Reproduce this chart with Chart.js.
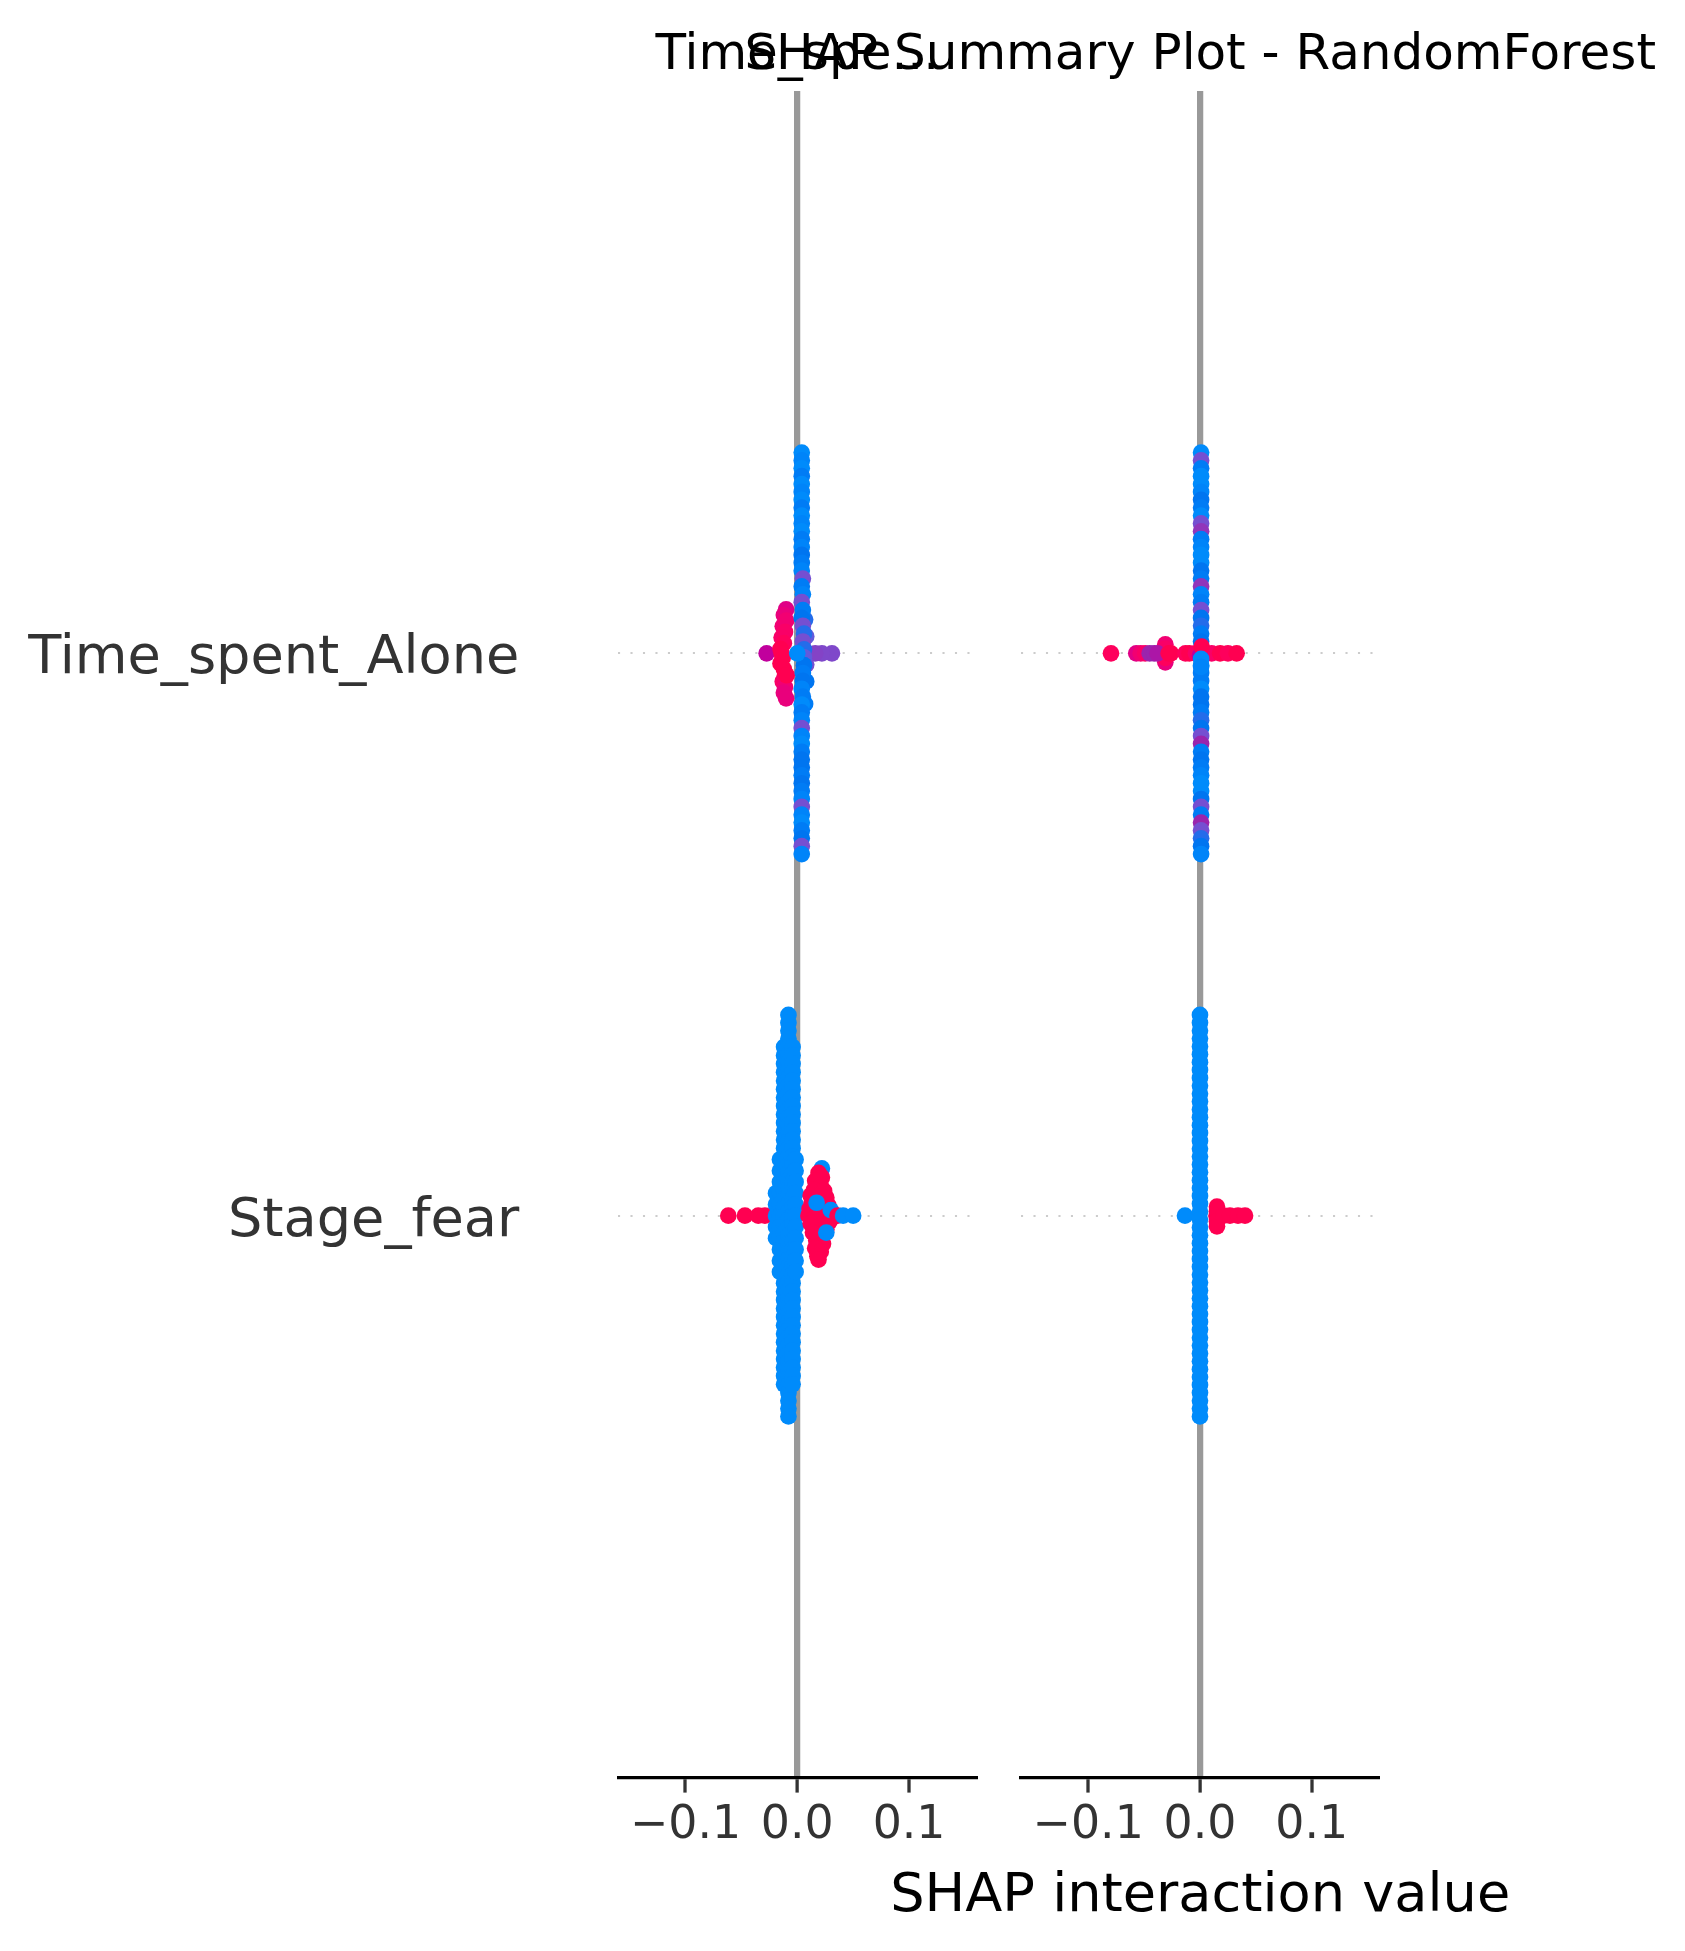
<!DOCTYPE html>
<html>
<head>
<meta charset="utf-8">
<script src="https://cdn.jsdelivr.net/npm/chart.js@4.4.1/dist/chart.umd.min.js"></script>
<style>
html, body { margin: 0; padding: 0; background: #ffffff; }
#wrap { position: relative; width: 1685px; height: 1951px; overflow: hidden; background: #ffffff; font-family: 'DejaVu Sans'; }
#wrap canvas { position: absolute; left: 0; top: 0; }
.txt { position: absolute; white-space: nowrap; text-align: center; width: 1200px; color: #000000; font-family: 'DejaVu Sans'; }
</style>
</head>
<body>
<div id="wrap">
  <canvas id="leftPanel" width="1685" height="1951"></canvas>
  <canvas id="rightPanel" width="1685" height="1951"></canvas>
  <div class="txt" id="titleLeft" style="left:197.3px; top:27px; font-size:50px; line-height:50px;"></div>
  <div class="txt" id="titleRight" style="left:600.2px; top:27px; font-size:50px; line-height:50px;"></div>
  <div class="txt" id="xLabel" style="left:600.2px; top:1866px; font-size:54.17px; line-height:54.17px;"></div>
</div>
<script>
// ---------------- data ----------------
const categories = ['Stage_fear', 'Time_spent_Alone'];          // y position = index
const panelTitles = ['Time_spe...', 'SHAP Summary Plot - RandomForest'];
const xTickValues = [-0.1, 0.0, 0.1];
const xTickLabels = ['\u22120.1', '0.0', '0.1'];
const xAxisLabel = 'SHAP interaction value';

// each point: [SHAP interaction value, beeswarm offset, feature value (0 low .. 1 high)]
const leftAlone = [
  [-0.0274,0,0.62],
  [-0.010,0.078,0.75],[-0.012,0.068,0.8],[-0.010,0.058,0.85],[-0.013,0.048,0.85],[-0.011,0.038,0.9],
  [-0.014,0.028,0.9],[-0.012,0.018,0.95],[-0.013,-0.008,1],[-0.015,-0.018,1],[-0.012,-0.028,1],
  [-0.011,-0.040,1],[-0.013,-0.050,0.9],[-0.011,-0.060,0.85],[-0.012,-0.070,0.8],[-0.010,-0.080,0.8],
  [-0.015,0.008,1],[-0.014,0,1],[-0.0095,-0.039,1],
  [0.031,0,0.38],[0.022,0,0.38],[0.016,0,0.4],
  [0.008,0.03,0.3],[0.008,-0.02,0.35],[0.007,0.06,0.2],[0.008,-0.05,0.15],[0.007,-0.09,0.1],
  [0.004,0.357,0],[0.004,0.343,0.05],[0.004,0.329,0],[0.004,0.315,0.1],[0.004,0.301,0],[0.004,0.287,0.05],
  [0.004,0.273,0],[0.004,0.259,0.1],[0.004,0.245,0],[0.004,0.231,0.05],[0.004,0.217,0],[0.004,0.203,0.1],
  [0.004,0.189,0.05],[0.004,0.175,0.15],[0.004,0.161,0.1],[0.004,0.147,0.05],[0.005,0.133,0.35],
  [0.004,0.119,0.1],[0.005,0.105,0.05],[0.004,0.091,0.35],[0.005,0.077,0.1],[0.004,0.063,0.15],
  [0.005,0.049,0.35],[0.006,0.035,0.2],[0.005,0.021,0.35],[0.006,0.007,0.2],[0.006,-0.007,0.3],
  [0.006,-0.021,0.15],[0.005,-0.035,0.1],[0.005,-0.049,0.15],[0.004,-0.063,0.05],[0.005,-0.077,0.1],
  [0.004,-0.091,0],[0.004,-0.105,0.1],[0.004,-0.119,0.05],[0.004,-0.133,0.35],[0.004,-0.147,0.05],
  [0.004,-0.161,0],[0.004,-0.175,0.1],[0.004,-0.189,0.15],[0.004,-0.203,0.15],[0.004,-0.217,0.1],
  [0.004,-0.231,0.15],[0.004,-0.245,0.1],[0.004,-0.259,0.05],[0.004,-0.273,0.35],[0.004,-0.287,0.05],
  [0.004,-0.301,0],[0.004,-0.315,0.1],[0.004,-0.329,0.15],[0.004,-0.343,0.35],[0.004,-0.357,0.05],
  [0.0,0,0]
];

const rightAlone = [
  [0.001,0.357,0],[0.001,0.343,0.35],[0.001,0.329,0.1],[0.001,0.315,0],[0.001,0.301,0],[0.001,0.287,0.05],
  [0.001,0.273,0.15],[0.001,0.259,0.1],[0.001,0.245,0],[0.001,0.231,0.35],[0.001,0.217,0.45],[0.001,0.203,0.1],
  [0.001,0.189,0.05],[0.001,0.175,0],[0.001,0.161,0],[0.001,0.147,0.15],[0.001,0.133,0.1],[0.001,0.119,0.45],
  [0.001,0.105,0.05],[0.001,0.091,0.1],[0.001,0.077,0.35],[0.001,0.063,0.15],[0.001,0.049,0.2],[0.001,0.035,0.1],
  [0.001,0.021,0.15],[0.001,0.007,0.05],[0.001,-0.007,0.1],[0.001,-0.021,0.05],[0.001,-0.035,0.1],[0.001,-0.049,0.1],
  [0.001,-0.063,0],[0.001,-0.077,0.15],[0.001,-0.091,0.15],[0.001,-0.105,0.1],[0.001,-0.119,0.2],[0.001,-0.133,0.15],
  [0.001,-0.147,0.35],[0.001,-0.161,0.5],[0.001,-0.175,0.1],[0.001,-0.189,0.15],[0.001,-0.203,0.1],[0.001,-0.217,0.05],
  [0.001,-0.231,0],[0.001,-0.245,0],[0.001,-0.259,0.15],[0.001,-0.273,0.35],[0.001,-0.287,0.1],[0.001,-0.301,0.5],
  [0.001,-0.315,0.35],[0.001,-0.329,0.2],[0.001,-0.343,0.15],[0.001,-0.357,0.05],
  [-0.0796,0,0.95],[-0.057,0,0.75],[-0.053,0,0.85],[-0.049,0,0.9],
  [-0.031,0.016,0.85],[-0.031,-0.016,0.8],[-0.031,0.008,0.9],[-0.031,-0.008,0.95],
  [-0.045,0,0.5],[-0.041,0,0.5],[-0.038,0,0.55],
  [-0.028,0,1],[-0.026,0,1],
  [-0.013,0,0.95],[-0.0095,0,1],[-0.0036,0,0.9],[0.0105,0,0.9],[0.018,0,1],[0.025,0,0.95],[0.0328,0,1],
  [0.0,-0.004,0.6],[0.0015,0.012,1],
  [0.001,-0.010,0],[0.001,-0.024,0.05]
];

const leftStage = [
  [-0.0617,0,1],[-0.0468,0,1],[-0.0349,0,1],[-0.0289,0,1],
  [-0.019,0.04,0],[-0.019,0.02,0],[-0.019,0,0],[-0.019,-0.02,0],[-0.019,-0.04,0],
  [-0.0155,0.1,0],[-0.0155,0.08,0],[-0.0155,0.06,0],[-0.0155,0.04,0],[-0.0155,0.02,0],[-0.0155,0,0],
  [-0.0155,-0.02,0],[-0.0155,-0.04,0],[-0.0155,-0.06,0],[-0.0155,-0.08,0],[-0.0155,-0.1,0],
  [-0.0118,0.30,0],[-0.0118,0.285,0],[-0.0118,0.27,0],[-0.0118,0.255,0],[-0.0118,0.24,0],[-0.0118,0.225,0],
  [-0.0118,0.21,0],[-0.0118,0.195,0],[-0.0118,0.18,0],[-0.0118,0.165,0],[-0.0118,0.15,0],[-0.0118,0.135,0],
  [-0.0118,0.12,0],[-0.0118,0.105,0],[-0.0118,0.09,0],[-0.0118,0.075,0],[-0.0118,0.06,0],[-0.0118,0.045,0],
  [-0.0118,0.03,0],[-0.0118,0.015,0],[-0.0118,0,0],[-0.0118,-0.015,0],[-0.0118,-0.03,0],[-0.0118,-0.045,0],
  [-0.0118,-0.06,0],[-0.0118,-0.075,0],[-0.0118,-0.09,0],[-0.0118,-0.105,0],[-0.0118,-0.12,0],[-0.0118,-0.135,0],
  [-0.0118,-0.15,0],[-0.0118,-0.165,0],[-0.0118,-0.18,0],[-0.0118,-0.195,0],[-0.0118,-0.21,0],[-0.0118,-0.225,0],
  [-0.0118,-0.24,0],[-0.0118,-0.255,0],[-0.0118,-0.27,0],[-0.0118,-0.285,0],[-0.0118,-0.30,0],
  [-0.0079,0.357,0],[-0.0079,0.343,0],[-0.0079,0.329,0],[-0.0079,0.315,0],[-0.0079,0.301,0],[-0.0079,0.287,0],
  [-0.0079,0.273,0],[-0.0079,0.259,0],[-0.0079,0.245,0],[-0.0079,0.231,0],[-0.0079,0.217,0],[-0.0079,0.203,0],
  [-0.0079,0.189,0],[-0.0079,0.175,0],[-0.0079,0.161,0],[-0.0079,0.147,0],[-0.0079,0.133,0],[-0.0079,0.119,0],
  [-0.0079,0.105,0],[-0.0079,0.091,0],[-0.0079,0.077,0],[-0.0079,0.063,0],[-0.0079,0.049,0],[-0.0079,0.035,0],
  [-0.0079,0.021,0],[-0.0079,0.007,0],[-0.0079,-0.007,0],[-0.0079,-0.021,0],[-0.0079,-0.035,0],[-0.0079,-0.049,0],
  [-0.0079,-0.063,0],[-0.0079,-0.077,0],[-0.0079,-0.091,0],[-0.0079,-0.105,0],[-0.0079,-0.119,0],[-0.0079,-0.133,0],
  [-0.0079,-0.147,0],[-0.0079,-0.161,0],[-0.0079,-0.175,0],[-0.0079,-0.189,0],[-0.0079,-0.203,0],[-0.0079,-0.217,0],
  [-0.0079,-0.231,0],[-0.0079,-0.245,0],[-0.0079,-0.259,0],[-0.0079,-0.273,0],[-0.0079,-0.287,0],[-0.0079,-0.301,0],
  [-0.0079,-0.315,0],[-0.0079,-0.329,0],[-0.0079,-0.343,0],[-0.0079,-0.357,0],
  [-0.0042,0.30,0],[-0.0042,0.285,0],[-0.0042,0.27,0],[-0.0042,0.255,0],[-0.0042,0.24,0],[-0.0042,0.225,0],
  [-0.0042,0.21,0],[-0.0042,0.195,0],[-0.0042,0.18,0],[-0.0042,0.165,0],[-0.0042,0.15,0],[-0.0042,0.135,0],
  [-0.0042,0.12,0],[-0.0042,0.105,0],[-0.0042,0.09,0],[-0.0042,0.075,0],[-0.0042,0.06,0],[-0.0042,0.045,0],
  [-0.0042,0.03,0],[-0.0042,0.015,0],[-0.0042,0,0],[-0.0042,-0.015,0],[-0.0042,-0.03,0],[-0.0042,-0.045,0],
  [-0.0042,-0.06,0],[-0.0042,-0.075,0],[-0.0042,-0.09,0],[-0.0042,-0.105,0],[-0.0042,-0.12,0],[-0.0042,-0.135,0],
  [-0.0042,-0.15,0],[-0.0042,-0.165,0],[-0.0042,-0.18,0],[-0.0042,-0.195,0],[-0.0042,-0.21,0],[-0.0042,-0.225,0],
  [-0.0042,-0.24,0],[-0.0042,-0.255,0],[-0.0042,-0.27,0],[-0.0042,-0.285,0],[-0.0042,-0.30,0],
  [-0.0015,0.1,0],[-0.0015,0.08,0],[-0.0015,0.06,0],[-0.0015,0.04,0],[-0.0015,0.02,0],[-0.0015,0,0],
  [-0.0015,-0.02,0],[-0.0015,-0.04,0],[-0.0015,-0.06,0],[-0.0015,-0.08,0],[-0.0015,-0.1,0],
  [0.022,0.084,0],
  [0.019,0.076,1],[0.022,0.068,1],[0.016,0.062,1],[0.021,0.054,1],[0.015,0.046,1],[0.024,0.044,1],
  [0.012,0.036,1],[0.019,0.034,1],[0.026,0.032,1],[0.013,0.024,1],[0.020,0.020,1],[0.028,0.018,1],
  [0.011,0.012,1],[0.018,0.008,1],[0.024,0.006,1],[0.031,0.004,1],[0.010,0,1],[0.034,0,1],
  [0.015,-0.004,1],[0.022,-0.008,1],[0.029,-0.010,1],[0.012,-0.014,1],[0.019,-0.020,1],[0.026,-0.024,1],
  [0.014,-0.030,1],[0.022,-0.036,1],[0.017,-0.044,1],[0.023,-0.050,1],[0.016,-0.058,1],[0.021,-0.064,1],
  [0.018,-0.072,1],[0.019,-0.078,1],
  [0.0173,0.023,0],[0.030,0.010,0],[0.026,-0.030,0],
  [0.036,0,1],[0.041,0,0],[0.050,0,0]
];

const rightStage = [
  [-0.0134,0,0],
  [0,0.357,0],[0,0.343,0],[0,0.329,0],[0,0.315,0],[0,0.301,0],[0,0.287,0],[0,0.273,0],[0,0.259,0],
  [0,0.245,0],[0,0.231,0],[0,0.217,0],[0,0.203,0],[0,0.189,0],[0,0.175,0],[0,0.161,0],[0,0.147,0],
  [0,0.133,0],[0,0.119,0],[0,0.105,0],[0,0.091,0],[0,0.077,0],[0,0.063,0],[0,0.049,0],[0,0.035,0],
  [0,0.021,0],[0,0.007,0],[0,-0.007,0],[0,-0.021,0],[0,-0.035,0],[0,-0.049,0],[0,-0.063,0],[0,-0.077,0],
  [0,-0.091,0],[0,-0.105,0],[0,-0.119,0],[0,-0.133,0],[0,-0.147,0],[0,-0.161,0],[0,-0.175,0],[0,-0.189,0],
  [0,-0.203,0],[0,-0.217,0],[0,-0.231,0],[0,-0.245,0],[0,-0.259,0],[0,-0.273,0],[0,-0.287,0],[0,-0.301,0],
  [0,-0.315,0],[0,-0.329,0],[0,-0.343,0],[0,-0.357,0],
  [0.0152,0.016,1],[0.0152,0.008,1],[0.0148,0,1],[0.0152,-0.010,1],[0.0152,-0.019,1],
  [0.021,0,1],[0.0268,0,1],[0.034,0,1],[0.0403,0,1]
];

// ---------------- styling helpers ----------------
function redBlue(t) {
  // SHAP "red_blue" colormap: LCH interpolation blue -> red with darker middle
  const L = t < 0.5 ? 54 + (40 - 54) * (t / 0.5) : 40 + (54 - 40) * ((t - 0.5) / 0.5);
  const C = 70 + 20 * t;
  const H = 4.6588 + (0.35470565 + 2 * Math.PI - 4.6588) * t;
  const a = C * Math.cos(H), b = C * Math.sin(H);
  const fy = (L + 16) / 116, fx = fy + a / 500, fz = fy - b / 200;
  const d = 6 / 29;
  const finv = v => v > d ? v * v * v : 3 * d * d * (v - 4 / 29);
  const X = 0.95047 * finv(fx), Y = finv(fy), Z = 1.08883 * finv(fz);
  const lin = [
    3.2406 * X - 1.5372 * Y - 0.4986 * Z,
    -0.9689 * X + 1.8758 * Y + 0.0415 * Z,
    0.0557 * X - 0.2040 * Y + 1.0570 * Z
  ];
  const c = lin.map(v => {
    v = Math.min(1, Math.max(0, v));
    v = v <= 0.0031308 ? 12.92 * v : 1.055 * Math.pow(v, 1 / 2.4) - 0.055;
    return Math.round(Math.min(1, Math.max(0, v)) * 255);
  });
  return 'rgb(' + c[0] + ',' + c[1] + ',' + c[2] + ')';
}

Chart.defaults.font.family = "'DejaVu Sans'";

const PAGE_W = 1685, PAGE_H = 1951;
const PLOT_TOP = 91, PLOT_BOTTOM = 1778, X_AXIS_H = 100;
const X_MIN = -0.1601, X_MAX = 0.1614;
const DOT_R = 8.35;

function makeDataset(points, rowName) {
  const row = categories.indexOf(rowName);
  return {
    data: points.map(p => ({ x: p[0], y: row + p[1] })),
    backgroundColor: points.map(p => redBlue(p[2])),
    pointRadius: DOT_R,
    pointHoverRadius: DOT_R,
    pointBorderWidth: 0,
    borderWidth: 0
  };
}

function makePanel(canvasId, plotLeft, plotRight, datasets, showYLabels) {
  return new Chart(document.getElementById(canvasId), {
    type: 'scatter',
    data: { datasets: datasets },
    options: {
      responsive: false,
      animation: false,
      devicePixelRatio: 1,
      events: [],
      layout: {
        padding: {
          left: showYLabels ? 0 : plotLeft,
          right: PAGE_W - plotRight,
          top: PLOT_TOP,
          bottom: PAGE_H - PLOT_BOTTOM - X_AXIS_H
        }
      },
      plugins: { legend: { display: false }, tooltip: { enabled: false }, title: { display: false } },
      scales: {
        x: {
          type: 'linear',
          position: 'bottom',
          min: X_MIN,
          max: X_MAX,
          afterBuildTicks: s => { s.ticks = xTickValues.map(v => ({ value: v })); },
          afterFit: s => { s.height = X_AXIS_H; s.paddingLeft = 0; s.paddingRight = 0; },
          ticks: {
            autoSkip: false,
            maxRotation: 0,
            padding: 5.8,
            color: '#333333',
            font: { size: 45.8 },
            callback: (v, i) => xTickLabels[i]
          },
          grid: {
            drawOnChartArea: true,
            color: ctx => (ctx.tick && ctx.tick.value === 0) ? '#999999' : 'rgba(0,0,0,0)',
            lineWidth: ctx => (ctx.tick && ctx.tick.value === 0) ? 6.25 : 0,
            tickColor: '#333333',
            tickWidth: 3.3,
            tickLength: 14.6
          },
          border: { display: true, color: '#000000', width: 3.3 }
        },
        y: {
          type: 'linear',
          position: 'left',
          min: -1,
          max: 2,
          afterBuildTicks: s => { s.ticks = categories.map((c, i) => ({ value: i })); },
          afterFit: s => { s.width = showYLabels ? plotLeft : 0; s.paddingTop = 0; s.paddingBottom = 0; },
          ticks: {
            display: showYLabels,
            padding: 99,
            labelOffset: 6,
            color: '#333333',
            font: { size: 54.17 },
            callback: (v, i) => categories[i]
          },
          grid: {
            drawTicks: false,
            color: '#cccccc',
            lineWidth: 2.08
          },
          border: { display: false, dash: [2.08, 10.4] }
        }
      }
    }
  });
}

makePanel('leftPanel', 618.3, 977.7, [
  makeDataset(leftAlone, 'Time_spent_Alone'),
  makeDataset(leftStage, 'Stage_fear')
], true);

makePanel('rightPanel', 1021, 1380.4, [
  makeDataset(rightAlone, 'Time_spent_Alone'),
  makeDataset(rightStage, 'Stage_fear')
], false);

document.getElementById('titleLeft').textContent = panelTitles[0];
document.getElementById('titleRight').textContent = panelTitles[1];
document.getElementById('xLabel').textContent = xAxisLabel;
</script>
</body>
</html>
